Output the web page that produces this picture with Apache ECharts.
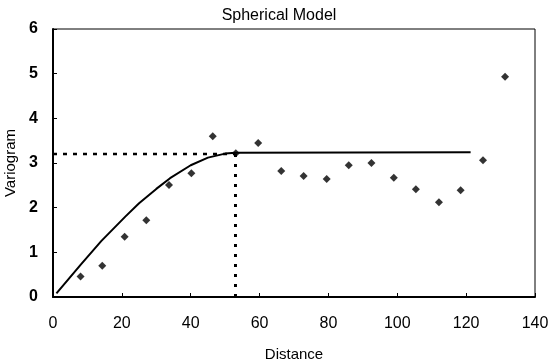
<!DOCTYPE html>
<html>
<head>
<meta charset="utf-8">
<script src="https://cdn.jsdelivr.net/npm/echarts@6/dist/echarts.min.js"></script>
<style>
  html, body { margin: 0; padding: 0; background: #fff; }
  #main { width: 550px; height: 363px; }
</style>
</head>
<body>
<div id="main"></div>
<script>
// experimental variogram points: [distance, gamma]
const samplePoints = [
  [8.0, 0.46], [14.3, 0.70], [20.8, 1.35], [27.1, 1.72], [33.7, 2.51],
  [40.2, 2.77], [46.4, 3.60], [53.1, 3.22], [59.6, 3.45], [66.3, 2.82],
  [72.8, 2.71], [79.5, 2.64], [85.9, 2.95], [92.5, 3.00], [99.0, 2.67],
  [105.4, 2.41], [112.1, 2.12], [118.4, 2.39], [124.9, 3.06], [131.3, 4.93]
];
// fitted spherical model
const modelLine = [
  [1, 0.08], [8, 0.72], [14, 1.25], [21, 1.8], [25, 2.1], [30, 2.42],
  [34, 2.66], [40, 2.95], [45, 3.12], [50, 3.21], [53, 3.23], [121.3, 3.24]
];
const sill = 3.2;
const range = 53;
const sillGuide = [[0, sill], [range, sill]];
const rangeGuide = [[range, 0], [range, sill]];

const xTicks = [0, 20, 40, 60, 80, 100, 120, 140];
const yTicks = [0, 1, 2, 3, 4, 5, 6];

const font = 'Liberation Sans, Arial, sans-serif';
const chart = echarts.init(document.getElementById('main'));
chart.setOption({
  animation: false,
  title: {
    text: 'Spherical Model',
    left: 274, top: 3, textAlign: 'center',
    textStyle: { fontFamily: font, fontSize: 16, fontWeight: 'normal', color: '#000' }
  },
  grid: {
    left: 53, right: 15, top: 29, bottom: 66,
    outerBoundsMode: 'none', containLabel: false,
    show: true, borderColor: '#000', borderWidth: 1
  },
  xAxis: {
    type: 'value',
    min: 0, max: 140, interval: 20,
    name: 'Distance', nameLocation: 'middle', nameGap: 50,
    nameTextStyle: { fontFamily: font, fontSize: 15, color: '#000' },
    axisLine: { show: true, lineStyle: { color: '#000', width: 2 } },
    axisTick: { show: true, inside: true, length: 4, lineStyle: { color: '#000' } },
    axisLabel: {
      margin: 19, fontFamily: font, fontSize: 16, color: '#000',
      formatter: v => xTicks.includes(v) ? String(v) : ''
    },
    splitLine: { show: false }
  },
  yAxis: {
    type: 'value',
    min: 0, max: 6, interval: 1,
    name: 'Variogram', nameLocation: 'middle', nameGap: 33, nameRotate: 90,
    nameTextStyle: { fontFamily: font, fontSize: 15, color: '#000' },
    axisLine: { show: true, lineStyle: { color: '#000', width: 2 } },
    axisTick: { show: true, inside: true, length: 4, lineStyle: { color: '#000' } },
    axisLabel: {
      margin: 15, fontFamily: font, fontSize: 16, fontWeight: 'bold', color: '#000',
      formatter: v => yTicks.includes(v) ? String(v) : ''
    },
    splitLine: { show: false }
  },
  series: [
    {
      type: 'line', data: sillGuide, symbol: 'none', silent: true,
      lineStyle: { color: '#000', width: 2.5, type: [4, 6] }
    },
    {
      type: 'line', data: rangeGuide, symbol: 'none', silent: true,
      lineStyle: { color: '#000', width: 3, type: [3, 7] }
    },
    {
      type: 'line', data: modelLine, symbol: 'none',
      lineStyle: { color: '#000', width: 2 }
    },
    {
      type: 'scatter', data: samplePoints, symbol: 'diamond', symbolSize: 8,
      itemStyle: { color: '#000' }
    }
  ]
});
</script>
</body>
</html>
